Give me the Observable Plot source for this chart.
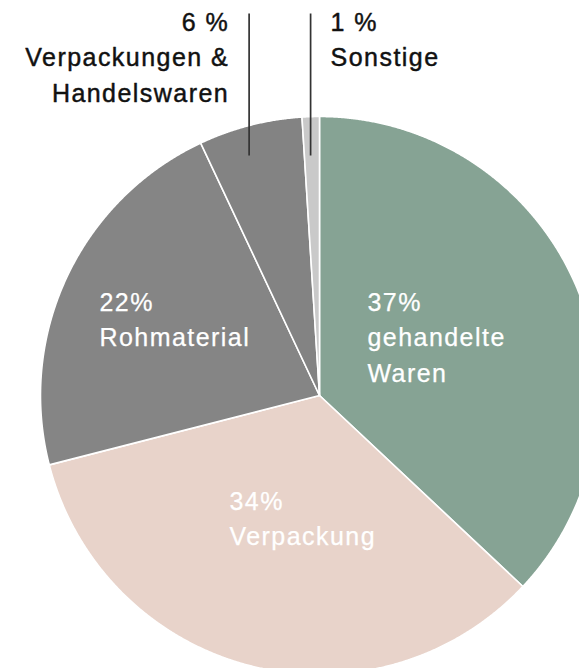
<!DOCTYPE html>
<html>
<head>
<meta charset="utf-8">
<script src="https://cdn.jsdelivr.net/npm/d3@7"></script>
<script src="https://cdn.jsdelivr.net/npm/@observablehq/plot@0.6"></script>
<style>
  html, body { margin: 0; padding: 0; background: #fff; overflow: hidden; }
  #chart { width: 579px; height: 668px; overflow: hidden; }
  #chart svg { display: block; overflow: hidden; }
  #chart svg text { letter-spacing: 1.45px; }
</style>
</head>
<body>
<div id="chart"></div>
<script>
// ---- data ----
const categories = ["gehandelte Waren", "Verpackung", "Rohmaterial", "Verpackungen & Handelswaren", "Sonstige"];
const values = [37, 34, 22, 6, 1];
const labelLines = ["gehandelte\nWaren", "Verpackung", "Rohmaterial", "Verpackungen &\nHandelswaren", "Sonstige"];
const sliceColors = ["#86a394", "#e8d3ca", "#858585", "#838383", "#c9c9c9"];
const insideLabel = [true, true, true, false, false];

// ---- layout ----
const W = 579, H = 668;
const cx = 319, cy = 395, R = 279;
const insidePos = { 0: [367, 285], 1: [229, 484], 2: [99, 285] };
const leaderTop = 13, leaderBottom = 155, leaderFrac = 0.41;

const arcs = d3.pie().sort(null).value(d => d)(values);

// wedge outlines
const wedgePts = [];
arcs.forEach((a, i) => {
  const n = Math.max(6, Math.ceil((a.endAngle - a.startAngle) / 0.004));
  wedgePts.push({cat: categories[i], x: cx, y: cy});
  for (let j = 0; j <= n; j++) {
    const t = a.startAngle + (a.endAngle - a.startAngle) * j / n;
    wedgePts.push({cat: categories[i], x: cx + R * Math.sin(t), y: cy - R * Math.cos(t)});
  }
  wedgePts.push({cat: categories[i], x: cx, y: cy});
});

// inside labels
const inLabels = arcs.map((a, i) => ({i, a})).filter(d => insideLabel[d.i]).map(d => ({
  x: insidePos[d.i][0], y: insidePos[d.i][1],
  text: `${values[d.i]}%\n${labelLines[d.i]}`
}));

// outside labels with leader lines
const outside = arcs.map((a, i) => ({i, a})).filter(d => !insideLabel[d.i]).map(d => {
  const ang = d.a.startAngle + leaderFrac * (d.a.endAngle - d.a.startAngle);
  const lx = cx + (cy - leaderBottom) * Math.tan(ang);
  const left = d.i === 3;
  return {
    lx, y1: leaderTop, y2: leaderBottom,
    tx: left ? lx - 20 : lx + 20,
    ty: 5,
    anchor: left ? "end" : "start",
    text: `${values[d.i]} %\n${labelLines[d.i]}`
  };
});

const chart = Plot.plot({
  width: W, height: H,
  margin: 0,
  x: {domain: [0, W], range: [0, W], axis: null},
  y: {domain: [0, H], range: [0, H], axis: null},
  color: {domain: categories, range: sliceColors},
  style: {fontFamily: "'Liberation Sans', Arial, sans-serif", background: "#fff"},
  marks: [
    Plot.line(wedgePts, {
      x: "x", y: "y", z: "cat", fill: "cat",
      stroke: "white", strokeWidth: 1.6, strokeLinejoin: "round", curve: "linear"
    }),
    Plot.link(outside, {x1: "lx", x2: "lx", y1: "y1", y2: "y2", stroke: "#333", strokeWidth: 1.7}),
    Plot.text(inLabels, {
      x: "x", y: "y", text: "text", fill: "white", fontSize: 25,
      stroke: "white", strokeWidth: 0.25,
      textAnchor: "start", lineAnchor: "top", lineHeight: 1.42
    }),
    Plot.text(outside.filter(d => d.anchor === "end"), {
      x: "tx", y: "ty", text: "text", fill: "#111", fontSize: 25,
      stroke: "#111", strokeWidth: 0.45,
      textAnchor: "end", lineAnchor: "top", lineHeight: 1.42
    }),
    Plot.text(outside.filter(d => d.anchor === "start"), {
      x: "tx", y: "ty", text: "text", fill: "#111", fontSize: 25,
      stroke: "#111", strokeWidth: 0.45,
      textAnchor: "start", lineAnchor: "top", lineHeight: 1.42
    })
  ]
});
document.getElementById("chart").appendChild(chart);
</script>
</body>
</html>
